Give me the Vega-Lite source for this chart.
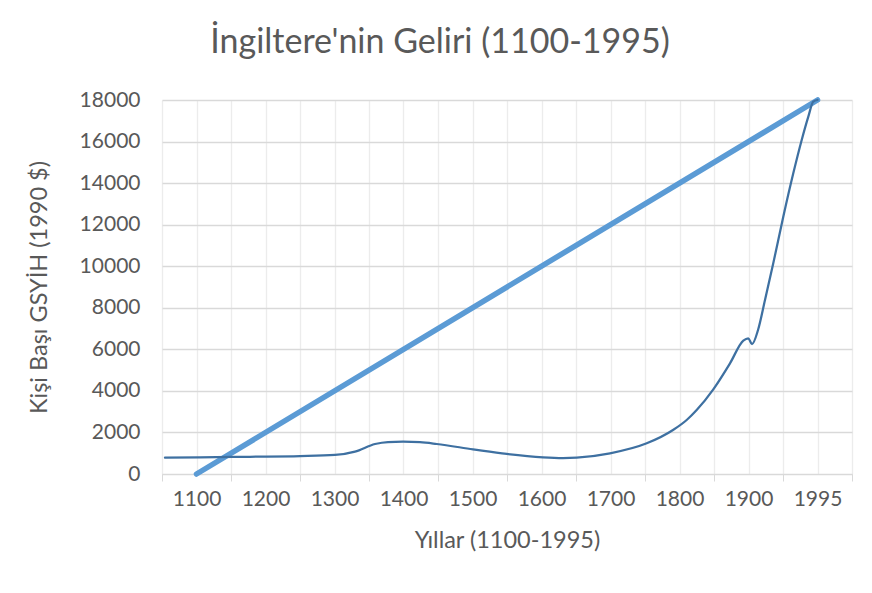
{
  "$schema": "https://vega.github.io/schema/vega-lite/v6.json",
  "width": 690,
  "height": 374,
  "autosize": {"type": "none"},
  "padding": {"left": 162, "top": 100, "right": 20, "bottom": 119},
  "background": "white",
  "title": {
    "text": "İngiltere'nin Geliri (1100-1995)",
    "font": "Lato",
    "fontSize": 34,
    "fontWeight": "normal",
    "color": "#595959",
    "baseline": "alphabetic",
    "offset": 2,
    "dx": -67
  },
  "config": {
    "view": {"stroke": null},
    "axis": {
      "labelFont": "Lato",
      "titleFont": "Lato",
      "labelColor": "#595959",
      "titleColor": "#595959",
      "labelFontSize": 21,
      "titleFontSize": 23.5,
      "titleFontWeight": "normal"
    }
  },
  "datasets": {
    "trend": [
      {"x": 0, "gdp": 0},
      {"x": 9, "gdp": 18000}
    ],
    "income": [
      {"x": -0.457, "gdp": 785},
      {"x": 0.051, "gdp": 800},
      {"x": 0.775, "gdp": 830},
      {"x": 1.5, "gdp": 860},
      {"x": 2.007, "gdp": 915},
      {"x": 2.297, "gdp": 1075},
      {"x": 2.587, "gdp": 1444},
      {"x": 2.775, "gdp": 1540},
      {"x": 2.993, "gdp": 1555},
      {"x": 3.239, "gdp": 1530},
      {"x": 3.481, "gdp": 1444},
      {"x": 4.007, "gdp": 1188},
      {"x": 4.496, "gdp": 963},
      {"x": 5.022, "gdp": 803},
      {"x": 5.312, "gdp": 770},
      {"x": 5.51, "gdp": 790},
      {"x": 5.993, "gdp": 996},
      {"x": 6.525, "gdp": 1477},
      {"x": 6.906, "gdp": 2118},
      {"x": 7.104, "gdp": 2600},
      {"x": 7.249, "gdp": 3080},
      {"x": 7.49, "gdp": 4076},
      {"x": 7.732, "gdp": 5328},
      {"x": 7.925, "gdp": 6420},
      {"x": 7.997, "gdp": 6530},
      {"x": 8.051, "gdp": 6250},
      {"x": 8.138, "gdp": 6930},
      {"x": 8.239, "gdp": 8375},
      {"x": 8.359, "gdp": 10140},
      {"x": 8.504, "gdp": 12380},
      {"x": 8.649, "gdp": 14470},
      {"x": 8.771, "gdp": 16075},
      {"x": 8.867, "gdp": 17200},
      {"x": 8.939, "gdp": 17920},
      {"x": 9.0, "gdp": 18000}
    ]
  },
  "encoding": {
    "x": {
      "field": "x",
      "type": "quantitative",
      "scale": {"domain": [-0.5, 9.5], "nice": false, "zero": false},
      "axis": {
        "title": "Yıllar (1100-1995)",
        "values": [-0.5, 0, 0.5, 1, 1.5, 2, 2.5, 3, 3.5, 4, 4.5, 5, 5.5, 6, 6.5, 7, 7.5, 8, 8.5, 9, 9.5],
        "labelExpr": "datum.value % 1 == 0 ? (datum.value == 9 ? '1995' : '' + (1100 + 100 * datum.value)) : ''",
        "labelOverlap": false,
        "labelFlush": false,
        "labelPadding": 7,
        "tickSize": 7,
        "tickColor": "#d9d9d9",
        "tickOpacity": {"condition": {"test": "datum.value % 1 == 0", "value": 0}, "value": 1},
        "domainColor": "#d9d9d9",
        "gridColor": "#ececec",
        "gridWidth": 1.3,
        "titlePadding": 19
      }
    },
    "y": {
      "field": "gdp",
      "type": "quantitative",
      "scale": {"domain": [0, 18000], "nice": false},
      "axis": {
        "title": "Kişi Başı GSYİH (1990 $)",
        "values": [0, 2000, 4000, 6000, 8000, 10000, 12000, 14000, 16000, 18000],
        "format": "d",
        "ticks": false,
        "domain": false,
        "labelPadding": 22,
        "gridColor": "#d9d9d9",
        "gridWidth": 1.3,
        "titlePadding": 28
      }
    }
  },
  "layer": [
    {
      "data": {"name": "trend"},
      "mark": {"type": "line", "color": "#5b9bd5", "strokeWidth": 5.5, "strokeCap": "round"}
    },
    {
      "data": {"name": "income"},
      "mark": {"type": "line", "color": "#3e70a1", "strokeWidth": 2.25, "interpolate": "monotone", "strokeCap": "round"}
    }
  ]
}
